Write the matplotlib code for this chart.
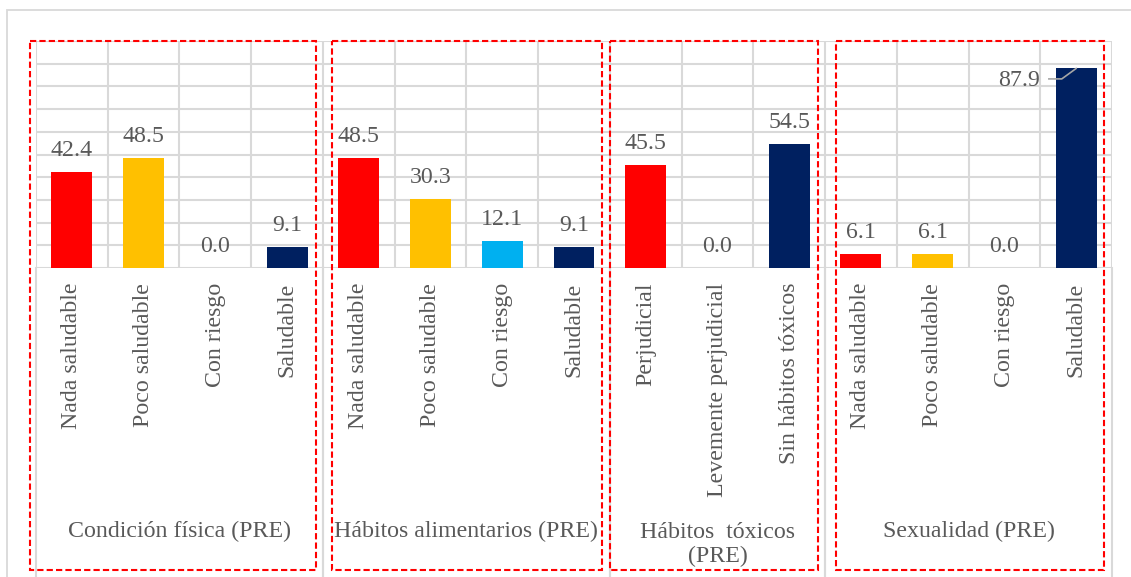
import matplotlib.pyplot as plt
from matplotlib.patches import Rectangle

plt.rcParams['font.family'] = ['Liberation Serif', 'DejaVu Serif']

groups = ['Condición física (PRE)', 'Hábitos alimentarios (PRE)',
          'Hábitos  tóxicos\n(PRE)', 'Sexualidad (PRE)']
categories = [
    ['Nada saludable', 'Poco saludable', 'Con riesgo', 'Saludable'],
    ['Nada saludable', 'Poco saludable', 'Con riesgo', 'Saludable'],
    ['Perjudicial', 'Levemente perjudicial', 'Sin hábitos tóxicos'],
    ['Nada saludable', 'Poco saludable', 'Con riesgo', 'Saludable'],
]
values = [
    [42.4, 48.5, 0.0, 9.1],
    [48.5, 30.3, 12.1, 9.1],
    [45.5, 0.0, 54.5],
    [6.1, 6.1, 0.0, 87.9],
]
colors = [
    ['#FF0000', '#FFC000', '#00B0F0', '#002060'],
    ['#FF0000', '#FFC000', '#00B0F0', '#002060'],
    ['#FF0000', '#FFC000', '#002060'],
    ['#FF0000', '#FFC000', '#00B0F0', '#002060'],
]
# dashed frame offsets (left, right) around each group, in category units
box_pads = [(-0.08, -0.10), (0.13, -0.11), (0.0, -0.10), (0.15, -0.11)]

W, H = 1131, 577
grid_c = '#D9D9D9'
text_c = '#595959'
fs = 17.2

fig = plt.figure(figsize=(W / 100, H / 100), dpi=100)
fig.add_artist(Rectangle((7 / W, -0.05), 1.1, 1 - 10 / H + 0.05, transform=fig.transFigure,
                         fill=False, edgecolor=grid_c, lw=1.3))

ax = fig.add_axes([36 / W, 1 - 268 / H, (1112 - 36) / W, (268 - 41) / H])
n = sum(len(c) for c in categories)
ax.set_xlim(0, n)
ax.set_ylim(0, 100)
ax.set_yticks(range(0, 101, 10))
ax.set_xticks(range(0, n + 1))
ax.tick_params(length=0, labelbottom=False, labelleft=False)
ax.grid(True, color=grid_c, lw=1.5)
ax.set_axisbelow(True)
for s in ax.spines.values():
    s.set_visible(False)

trans = ax.get_xaxis_transform()
bottom = -1.45
start = 0
for g, (name, cats, vals, cols) in enumerate(zip(groups, categories, values, colors)):
    xs = [start + i + 0.5 for i in range(len(cats))]
    ax.bar(xs, vals, width=0.57, color=cols, zorder=3)
    for x, cat, v in zip(xs, cats, vals):
        ax.text(x, -0.066, cat, transform=trans, rotation=90, ha='center', va='top',
                fontsize=fs, color=text_c)
        if v > 80:
            # label beside the tall bar with a leader line
            ax.text(x - 0.5, v - 5.3, f'{v:.1f}', ha='right', va='center',
                    fontsize=fs, color=text_c, zorder=4)
            ax.plot([x - 0.38, x - 0.2, x], [v - 4.6, v - 4.6, v], color='#A6A6A6',
                    lw=1.2, zorder=4)
        else:
            ax.annotate(f'{v:.1f}', (x, v), xytext=(0, 11.5), textcoords='offset points',
                        ha='center', va='baseline', fontsize=fs, color=text_c)
    end = start + len(cats)
    # wrapped group names keep their first line on the common baseline
    extra = name.count('\n')
    ax.annotate(name, ((start + end) / 2, -1.185), xycoords=trans,
                xytext=(0, -18 * extra), textcoords='offset points',
                ha='center', va='baseline', fontsize=fs, color=text_c, linespacing=1.15)
    # separators below the axis
    for b in (start, end):
        ax.plot([b, b], [0, bottom], transform=trans, color=grid_c, lw=1.5, clip_on=False)
    lp, rp = box_pads[g]
    ax.add_patch(Rectangle((start + lp, 1.0), (end + rp) - (start + lp), -2.33,
                           transform=trans, fill=False, edgecolor='#FF0000', lw=1.5,
                           linestyle=(0, (3, 1.5)), clip_on=False, zorder=5))
    start = end

fig.savefig('out.png', dpi=100)
